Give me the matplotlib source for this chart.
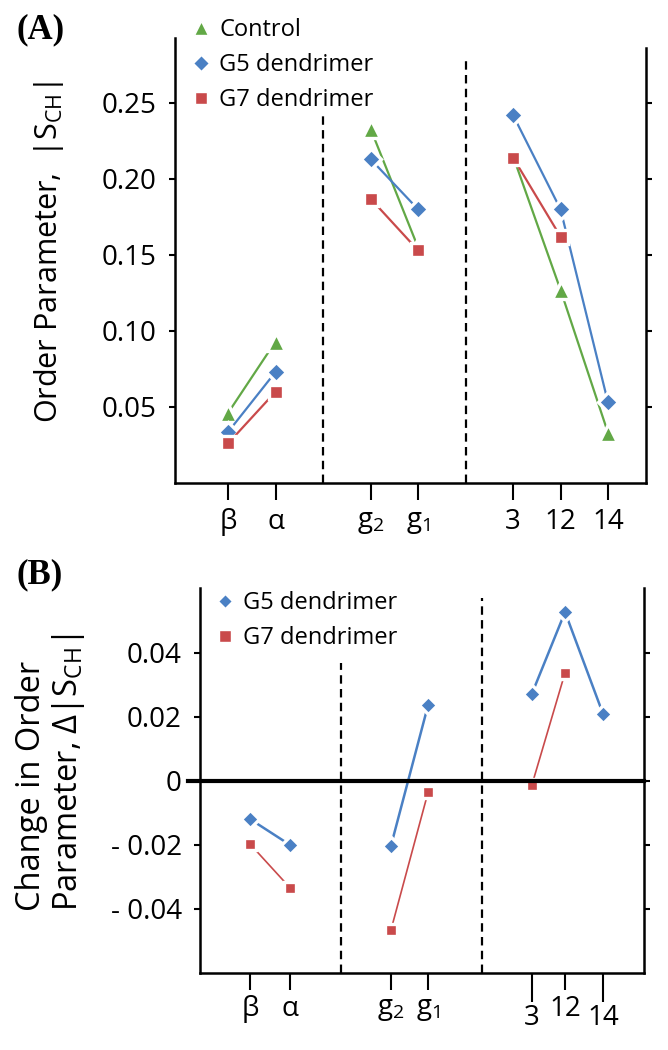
import matplotlib
matplotlib.use('Agg')
import matplotlib.pyplot as plt
import numpy as np
from matplotlib.lines import Line2D
from matplotlib.ticker import FixedLocator, FixedFormatter

plt.rcParams['font.family'] = ['Open Sans', 'DejaVu Sans']
plt.rcParams['mathtext.fontset'] = 'custom'
plt.rcParams['mathtext.rm'] = 'Open Sans'
plt.rcParams['mathtext.it'] = 'Open Sans:italic'

# categories (carbon positions) and the three groups they fall in
tick_labels = ['β', 'α', 'g$_\\mathregular{2}$', 'g$_\\mathregular{1}$', '3', '12', '14']
segments = [[0, 1], [2, 3], [4, 5, 6]]

# panel A: order parameter |S_CH|
control = [0.046, 0.093, 0.233, 0.155, 0.215, 0.127, 0.033]
g5_abs = [0.0335, 0.073, 0.213, 0.180, 0.242, 0.180, 0.053]
g7_abs = [0.026, 0.060, 0.187, 0.153, 0.214, 0.162, np.nan]

# panel B: change in order parameter
g5_diff = [-0.0119, -0.0200, -0.0203, 0.0238, 0.0272, 0.0528, 0.0209]
g7_diff = [-0.0197, -0.0334, -0.0466, -0.0034, -0.0013, 0.0338, np.nan]

# x positions of the categories in each panel
xpos_a = [0, 1, 3, 4, 6, 7, 8]
xpos_b = [0, 0.99, 3.48, 4.40, 6.96, 7.78, 8.72]

green = '#62a846'
blue = '#4a80c4'
red = '#c94a4b'

fig = plt.figure(figsize=(6.68, 10.5), dpi=100)
W, H = 668.0, 1050.0
ax_a = fig.add_axes([175 / W, 1 - 483 / H, (646 - 175) / W, (483 - 38) / H])
ax_b = fig.add_axes([200 / W, 1 - 973 / H, (644 - 200) / W, (973 - 588) / H])


def draw_series(ax, xpos, vals, marker, color, ms, lw):
    for seg in segments:
        xs = [xpos[i] for i in seg]
        ys = [vals[i] for i in seg]
        ax.plot(xs, ys, color=color, lw=lw, marker=marker, ms=ms,
                mfc=color, mec='white', mew=2.4, zorder=3)


def style_axes(ax):
    ax.spines['top'].set_visible(False)
    for s in ['left', 'right', 'bottom']:
        ax.spines[s].set_linewidth(1.8)
    ax.tick_params(axis='y', direction='out', length=4, width=1.5,
                   right=True, labelsize=20, pad=9)
    ax.tick_params(axis='x', direction='out', length=12, width=1.5,
                   labelsize=20, pad=6)


# ---------------- panel A ----------------
draw_series(ax_a, xpos_a, control, '^', green, 12.5, 1.6)
draw_series(ax_a, xpos_a, g5_abs, 'D', blue, 10, 1.6)
draw_series(ax_a, xpos_a, g7_abs, 's', red, 10.5, 1.6)
ax_a.set_xlim(-1.116, 8.8)
ax_a.set_ylim(0, 0.2926)
ax_a.set_yticks([0.05, 0.10, 0.15, 0.20, 0.25])
ax_a.set_yticklabels(['0.05', '0.10', '0.15', '0.20', '0.25'])
ax_a.set_xticks(xpos_a)
ax_a.set_xticklabels(tick_labels)
style_axes(ax_a)
ax_a.spines['right'].set_bounds(0, 0.286)
ax_a.vlines(2, 0, 0.244, colors='black', lw=1.6, linestyles=(0, (3.8, 2.4)))
ax_a.vlines(5, 0, 0.281, colors='black', lw=1.6, linestyles=(0, (3.8, 2.4)))

handles_a = [
    Line2D([], [], ls='none', marker='^', ms=10, color=green, mec='white', mew=1),
    Line2D([], [], ls='none', marker='D', ms=8, color=blue, mec='white', mew=1),
    Line2D([], [], ls='none', marker='s', ms=8.5, color=red, mec='white', mew=1),
]
ax_a.legend(handles_a, ['Control', 'G5 dendrimer', 'G7 dendrimer'],
            loc='upper left', bbox_to_anchor=(192 / W, 1 - 18 / H),
            bbox_transform=fig.transFigure, frameon=False, fontsize=17,
            handlelength=0.8, handletextpad=0.35, labelspacing=0.47,
            borderpad=0, borderaxespad=0)

fig.text(16 / W, 1 - 30 / H, '(A)', family='Liberation Serif',
         fontweight='bold', fontsize=25, va='center', ha='left')
fig.text(49 / W, 1 - 252 / H, 'Order Parameter,  |S$_\\mathregular{CH}$|',
         rotation=90, fontsize=22, ha='center', va='center')

# ---------------- panel B ----------------
draw_series(ax_b, xpos_b, g5_diff, 'D', blue, 9, 1.8)
draw_series(ax_b, xpos_b, g7_diff, 's', red, 9, 1.2)
ax_b.set_xlim(-1.235, 9.73)
ax_b.set_ylim(-0.06, 0.0603)
ax_b.set_yticks([-0.04, -0.02, 0, 0.02, 0.04])
ax_b.set_yticklabels(['- 0.04', '- 0.02', '0', '0.02', '0.04'])
style_axes(ax_b)
# staggered x tick labels: 3 and 14 sit lower than the others
short_idx = [0, 1, 2, 3, 5]
long_idx = [4, 6]
ax_b.xaxis.set_major_locator(FixedLocator([xpos_b[i] for i in short_idx]))
ax_b.xaxis.set_major_formatter(FixedFormatter([tick_labels[i] for i in short_idx]))
ax_b.xaxis.set_minor_locator(FixedLocator([xpos_b[i] for i in long_idx]))
ax_b.xaxis.set_minor_formatter(FixedFormatter([tick_labels[i] for i in long_idx]))
ax_b.tick_params(axis='x', which='major', length=12, width=1.5, labelsize=20, pad=4)
ax_b.tick_params(axis='x', which='minor', direction='out', length=21, width=1.5,
                 labelsize=20, pad=1)
ax_b.tick_params(axis='y', which='minor', left=False, right=False)
ax_b.plot([-12 / 444, 1], [0, 0], color='black', lw=3,
          transform=ax_b.get_yaxis_transform(), clip_on=False, zorder=4)
ax_b.vlines(2.25, -0.06, 0.0369, colors='black', lw=1.6, linestyles=(0, (3.8, 2.4)))
ax_b.vlines(5.73, -0.06, 0.0572, colors='black', lw=1.6, linestyles=(0, (3.8, 2.4)))

handles_b = [
    Line2D([], [], ls='none', marker='D', ms=7.5, color=blue, mec='white', mew=1),
    Line2D([], [], ls='none', marker='s', ms=8, color=red, mec='white', mew=1),
]
ax_b.legend(handles_b, ['G5 dendrimer', 'G7 dendrimer'],
            loc='upper left', bbox_to_anchor=(216 / W, 1 - 591 / H),
            bbox_transform=fig.transFigure, frameon=False, fontsize=17,
            handlelength=0.8, handletextpad=0.35, labelspacing=0.47,
            borderpad=0, borderaxespad=0)

fig.text(16 / W, 1 - 575 / H, '(B)', family='Liberation Serif',
         fontweight='bold', fontsize=25, va='center', ha='left')
fig.text(51 / W, 1 - 772 / H, 'Change in Order\nParameter, Δ|S$_\\mathregular{CH}$|',
         rotation=90, fontsize=23.5, ha='center', va='center',
         multialignment='left', linespacing=1.1)

fig.savefig('out.png', dpi=100)
